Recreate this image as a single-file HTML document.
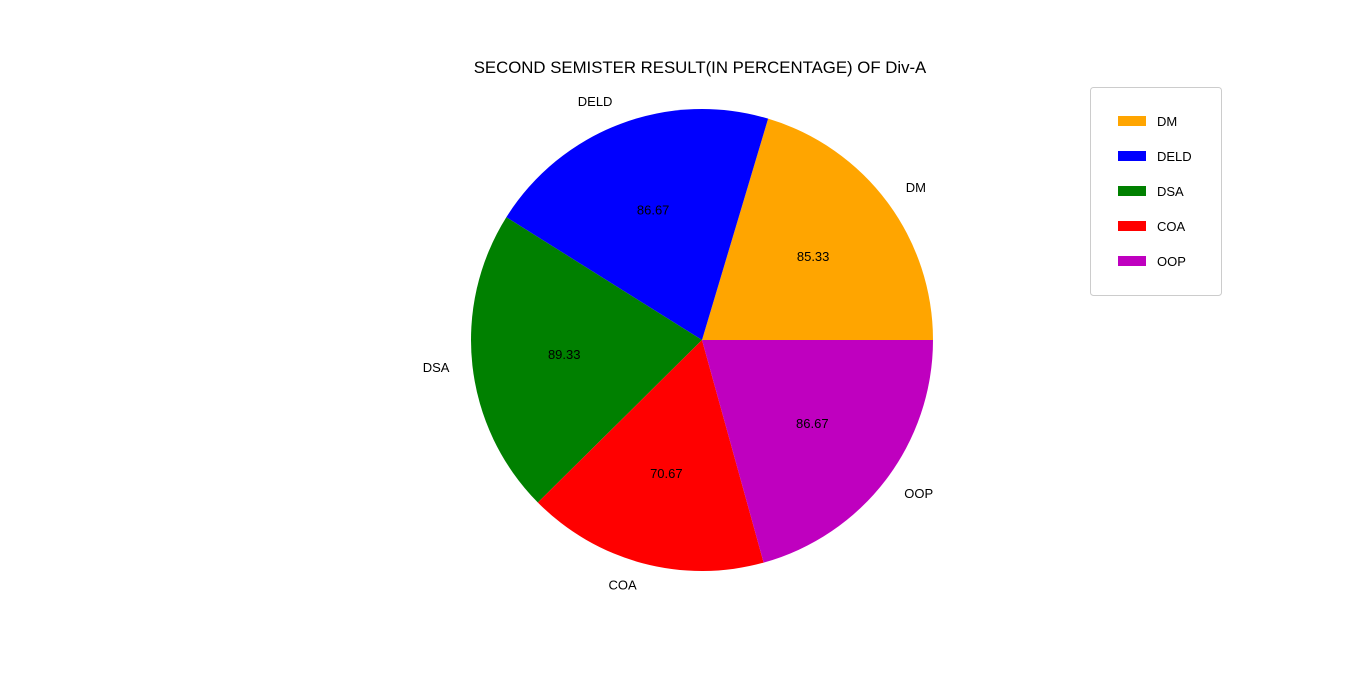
<!DOCTYPE html>
<html><head><meta charset="utf-8"><style>
body{margin:0;background:#fff;}
svg text{font-family:"Liberation Sans","DejaVu Sans",sans-serif;}
</style></head><body>
<svg id="chart" width="1366" height="671" xmlns="http://www.w3.org/2000/svg">
<text x="700" y="73" font-size="16.8" text-anchor="middle">SECOND SEMISTER RESULT(IN PERCENTAGE) OF Div-A</text>
<g id="slices"></g>
<g id="legend">
<rect x="1090.5" y="87.5" width="131" height="208" fill="#fff" stroke="#ccc" rx="3"/>
</g>
</svg>
<script>
const categories=["DM","DELD","DSA","COA","OOP"];
const values=[85.33,86.67,89.33,70.67,86.67];
const colors=["orange","blue","green","red","#bf00bf"];
const cx=702,cy=340,r=231;
const ns="http://www.w3.org/2000/svg";
const g=document.getElementById('slices');
const lg=document.getElementById('legend');
const total=values.reduce((a,b)=>a+b,0);
let a0=0;
function pt(a,rr){return [cx+rr*Math.cos(a),cy-rr*Math.sin(a)];}
values.forEach((v,i)=>{
  const a1=a0+v/total*2*Math.PI;
  const p0=pt(a0,r),p1=pt(a1,r);
  const path=document.createElementNS(ns,'path');
  path.setAttribute('d',`M${cx},${cy} L${p0[0]},${p0[1]} A${r},${r} 0 ${a1-a0>Math.PI?1:0} 0 ${p1[0]},${p1[1]} Z`);
  path.setAttribute('fill',colors[i]);
  
  
  g.appendChild(path);
  const m=(a0+a1)/2;
  const q=pt(m,0.6*r);
  const t=document.createElementNS(ns,'text');
  t.setAttribute('x',q[0]);t.setAttribute('y',q[1]+4);
  t.setAttribute('font-size','13');t.setAttribute('text-anchor','middle');
  t.textContent=v.toFixed(2);
  
  
  g.appendChild(t);
  const o=pt(m,1.1*r);
  const t2=document.createElementNS(ns,'text');
  t2.setAttribute('x',o[0]);t2.setAttribute('y',o[1]+4);
  t2.setAttribute('font-size','13');
  t2.setAttribute('text-anchor',Math.cos(m)>0.01?'start':(Math.cos(m)<-0.01?'end':'middle'));
  t2.textContent=categories[i];
  
  
  g.appendChild(t2);
  const y=121+35*i;
  const lr=document.createElementNS(ns,'rect');
  lr.setAttribute('x',1118);lr.setAttribute('y',y-5);lr.setAttribute('width',28);lr.setAttribute('height',10);
  lr.setAttribute('fill',colors[i]);
  
  
  lg.appendChild(lr);
  const lt=document.createElementNS(ns,'text');
  lt.setAttribute('x',1157);lt.setAttribute('y',y+5);lt.setAttribute('font-size','13');
  lt.textContent=categories[i];
  
  
  lg.appendChild(lt);
  a0=a1;
});
</script>
</body></html>
